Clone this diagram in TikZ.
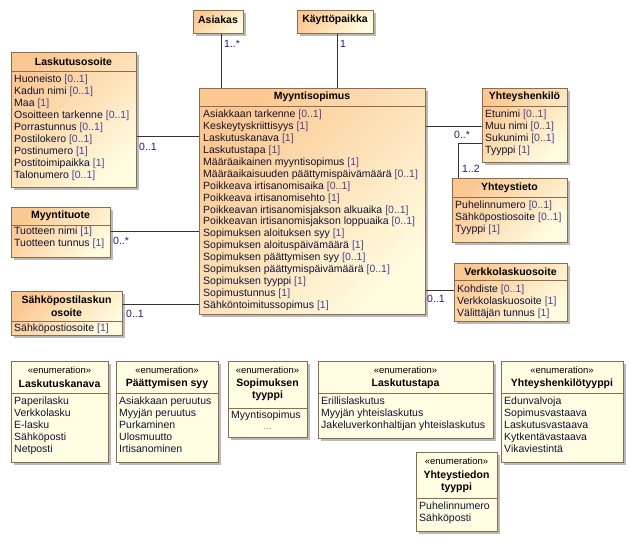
\documentclass[tikz,border=0pt]{standalone}
\usepackage{fontspec}
\setmainfont{Liberation Sans}
\usetikzlibrary{positioning,shadows}

\definecolor{clsdark}{RGB}{252,200,146}
\definecolor{clslight}{RGB}{255,252,224}
\definecolor{enumfill}{RGB}{255,253,226}
\definecolor{edge}{RGB}{140,108,78}
\definecolor{attrcol}{RGB}{18,18,50}
\definecolor{multcol}{RGB}{70,70,140}
\definecolor{assoccol}{RGB}{50,20,110}
\newcommand{\mlt}[1]{\textcolor{multcol}{#1}}

\begin{document}
\begin{tikzpicture}[x=1pt,y=-1pt,anchor=north west,
    cls/.style={draw=edge, line width=0.8pt, top color=clsdark, bottom color=clslight,
      shading angle=45, inner sep=0pt,
      drop shadow={shadow xshift=2.5pt, shadow yshift=-2.5pt, fill=black!45, opacity=.6}},
    enm/.style={cls, top color=enumfill, bottom color=enumfill},
    sepline/.style={draw=edge, line width=0.8pt},
    title/.style={anchor=center, align=center, inner sep=0pt,
      font=\bfseries\fontsize{10.5}{12.5}\selectfont},
    stereo/.style={anchor=center, inner sep=0pt, font=\fontsize{9.5}{11}\selectfont},
    attrs/.style={align=left, inner sep=0pt, text=attrcol,
      font=\fontsize{10.5}{11.9}\selectfont},
    role/.style={anchor=west, inner sep=0pt, text=assoccol, font=\fontsize{10.5}{12}\selectfont},
    assoc/.style={draw=black!80, line width=0.8pt}]
    \useasboundingbox (0,0) rectangle (629,541);

    % top classes
    \node[cls, minimum width=50pt, minimum height=23pt] (as_box) at (193,10) {};
    \node[title] (as_title) at (218,20) {Asiakas};
    \node[cls, minimum width=76pt, minimum height=23pt] (kp_box) at (297,10) {};
    \node[title] (kp_title) at (335,20) {Käyttöpaikka};

    % Myyntisopimus
    \node[cls, minimum width=226pt, minimum height=226pt] (ms_box) at (199,88) {};
    \draw[sepline] (199,106) -- +(226,0);
    \node[title] (ms_title) at (312,97) {Myyntisopimus};
    \node[attrs] (ms_attrs) at (203,110) {%
      Asiakkaan tarkenne \mlt{[0..1]}\\
      Keskeytyskriittisyys \mlt{[1]}\\
      Laskutuskanava \mlt{[1]}\\
      Laskutustapa \mlt{[1]}\\
      Määräaikainen myyntisopimus \mlt{[1]}\\
      Määräaikaisuuden päättymispäivämäärä \mlt{[0..1]}\\
      Poikkeava irtisanomisaika \mlt{[0..1]}\\
      Poikkeava irtisanomisehto \mlt{[1]}\\
      Poikkeavan irtisanomisjakson alkuaika \mlt{[0..1]}\\
      Poikkeavan irtisanomisjakson loppuaika \mlt{[0..1]}\\
      Sopimuksen aloituksen syy \mlt{[1]}\\
      Sopimuksen aloituspäivämäärä \mlt{[1]}\\
      Sopimuksen päättymisen syy \mlt{[0..1]}\\
      Sopimuksen päättymispäivämäärä \mlt{[0..1]}\\
      Sopimuksen tyyppi \mlt{[1]}\\
      Sopimustunnus \mlt{[1]}\\
      Sähköntoimitussopimus \mlt{[1]}};

    % left classes
    \node[cls, minimum width=125pt, minimum height=135pt] (lo_box) at (11,52) {};
    \draw[sepline] (11,71) -- +(125,0);
    \node[title] (lo_title) at (73.5,61.5) {Laskutusosoite};
    \node[attrs] (lo_attrs) at (14,75) {%
      Huoneisto \mlt{[0..1]}\\
      Kadun nimi \mlt{[0..1]}\\
      Maa \mlt{[1]}\\
      Osoitteen tarkenne \mlt{[0..1]}\\
      Porrastunnus \mlt{[0..1]}\\
      Postilokero \mlt{[0..1]}\\
      Postinumero \mlt{[1]}\\
      Postitoimipaikka \mlt{[1]}\\
      Talonumero \mlt{[0..1]}};

    \node[cls, minimum width=99pt, minimum height=50pt] (mt_box) at (11,207) {};
    \draw[sepline] (11,225) -- +(99,0);
    \node[title] (mt_title) at (60.5,216) {Myyntituote};
    \node[attrs] (mt_attrs) at (14,227) {%
      Tuotteen nimi \mlt{[1]}\\
      Tuotteen tunnus \mlt{[1]}};

    \node[cls, minimum width=111pt, minimum height=44pt] (sp_box) at (11,291) {};
    \draw[sepline] (11,321) -- +(111,0);
    \node[title] (sp_title) at (66.5,306) {Sähköpostilaskun\\osoite};
    \node[attrs] (sp_attrs) at (14,324) {Sähköpostiosoite \mlt{[1]}};

    % right classes
    \node[cls, minimum width=85pt, minimum height=74pt] (yh_box) at (482,88) {};
    \draw[sepline] (482,106) -- +(85,0);
    \node[title] (yh_title) at (524.5,97) {Yhteyshenkilö};
    \node[attrs] (yh_attrs) at (485,110) {%
      Etunimi \mlt{[0..1]}\\
      Muu nimi \mlt{[0..1]}\\
      Sukunimi \mlt{[0..1]}\\
      Tyyppi \mlt{[1]}};

    \node[cls, minimum width=115pt, minimum height=64pt] (yt_box) at (452,178) {};
    \draw[sepline] (452,197) -- +(115,0);
    \node[title] (yt_title) at (509.5,187.5) {Yhteystieto};
    \node[attrs] (yt_attrs) at (455,201) {%
      Puhelinnumero \mlt{[0..1]}\\
      Sähköpostiosoite \mlt{[0..1]}\\
      Tyyppi \mlt{[1]}};

    \node[cls, minimum width=113pt, minimum height=58pt] (vk_box) at (454,263) {};
    \draw[sepline] (454,280) -- +(113,0);
    \node[title] (vk_title) at (510.5,271.5) {Verkkolaskuosoite};
    \node[attrs] (vk_attrs) at (457,285) {%
      Kohdiste \mlt{[0..1]}\\
      Verkkolaskuosoite \mlt{[1]}\\
      Välittäjän tunnus \mlt{[1]}};

    % associations
    \draw[assoc] ([xshift=3pt]as_box.south) -- ([xshift=3pt]as_box.south |- ms_box.north);
    \node[role] (as_role) at (224,44) {1..*};
    \draw[assoc] ([xshift=2pt]kp_box.south) -- ([xshift=2pt]kp_box.south |- ms_box.north);
    \node[role] (kp_role) at (340,44) {1};
    \draw[assoc] (lo_box.east |- 0,136) -- (ms_box.west |- 0,136);
    \node[role] (lo_role) at (139,147) {0..1};
    \draw[assoc] (mt_box.east |- 0,231) -- (ms_box.west |- 0,231);
    \node[role] (mt_role) at (113,241) {0..*};
    \draw[assoc] (sp_box.east |- 0,304) -- (ms_box.west |- 0,304);
    \node[role] (sp_role) at (126,314) {0..1};
    \draw[assoc] (ms_box.east |- 0,126) -- (yh_box.west |- 0,126);
    \node[role] (yh_role) at (454,135) {0..*};
    \draw[assoc] (yh_box.west |- 0,143) -| ([xshift=6pt]yt_box.north west);
    \node[role] (yt_role) at (462,169) {1..2};
    \draw[assoc] (ms_box.east |- 0,290) -- (vk_box.west |- 0,290);
    \node[role] (vk_role) at (427,299) {0..1};

    % enumerations
    \node[enm, minimum width=97pt, minimum height=101pt] (lk_box) at (11,361) {};
    \draw[sepline] (11,393) -- +(97,0);
    \node[stereo] (lk_st) at (59.5,370) {«enumeration»};
    \node[title] (lk_title) at (59.5,384) {Laskutuskanava};
    \node[attrs] (lk_items) at (14,397) {Paperilasku\\Verkkolasku\\E-lasku\\Sähköposti\\Netposti};

    \node[enm, minimum width=102pt, minimum height=101pt] (ps_box) at (116,361) {};
    \draw[sepline] (116,393) -- +(102,0);
    \node[stereo] (ps_st) at (167,370) {«enumeration»};
    \node[title] (ps_title) at (167,384) {Päättymisen syy};
    \node[attrs] (ps_items) at (119,397) {Asiakkaan peruutus\\Myyjän peruutus\\Purkaminen\\Ulosmuutto\\Irtisanominen};

    \node[enm, minimum width=79pt, minimum height=76pt] (sty_box) at (228,361) {};
    \draw[sepline] (228,408) -- +(79,0);
    \node[stereo] (sty_st) at (267.5,370) {«enumeration»};
    \node[title] (sty_title) at (267.5,390) {Sopimuksen\\tyyppi};
    \node[attrs] (sty_items) at (231,411) {Myyntisopimus};
    \node[stereo, text=black!45] (sty_dots) at (267.5,429) {...};

    \node[enm, minimum width=175pt, minimum height=77pt] (lt_box) at (318,361) {};
    \draw[sepline] (318,393) -- +(175,0);
    \node[stereo] (lt_st) at (405.5,370) {«enumeration»};
    \node[title] (lt_title) at (405.5,384) {Laskutustapa};
    \node[attrs] (lt_items) at (321,397) {Erillislaskutus\\Myyjän yhteislaskutus\\Jakeluverkonhaltijan yhteislaskutus};

    \node[enm, minimum width=122pt, minimum height=101pt] (yht_box) at (501,361) {};
    \draw[sepline] (501,393) -- +(122,0);
    \node[stereo] (yht_st) at (562,370) {«enumeration»};
    \node[title] (yht_title) at (562,384) {Yhteyshenkilötyyppi};
    \node[attrs] (yht_items) at (504,397) {Edunvalvoja\\Sopimusvastaava\\Laskutusvastaava\\Kytkentävastaava\\Vikaviestintä};

    \node[enm, minimum width=81pt, minimum height=79pt] (ytt_box) at (416,452) {};
    \draw[sepline] (416,498) -- +(81,0);
    \node[stereo] (ytt_st) at (456.5,461) {«enumeration»};
    \node[title] (ytt_title) at (456.5,482) {Yhteystiedon\\tyyppi};
    \node[attrs] (ytt_items) at (419,502) {Puhelinnumero\\Sähköposti};

\end{tikzpicture}
\end{document}
